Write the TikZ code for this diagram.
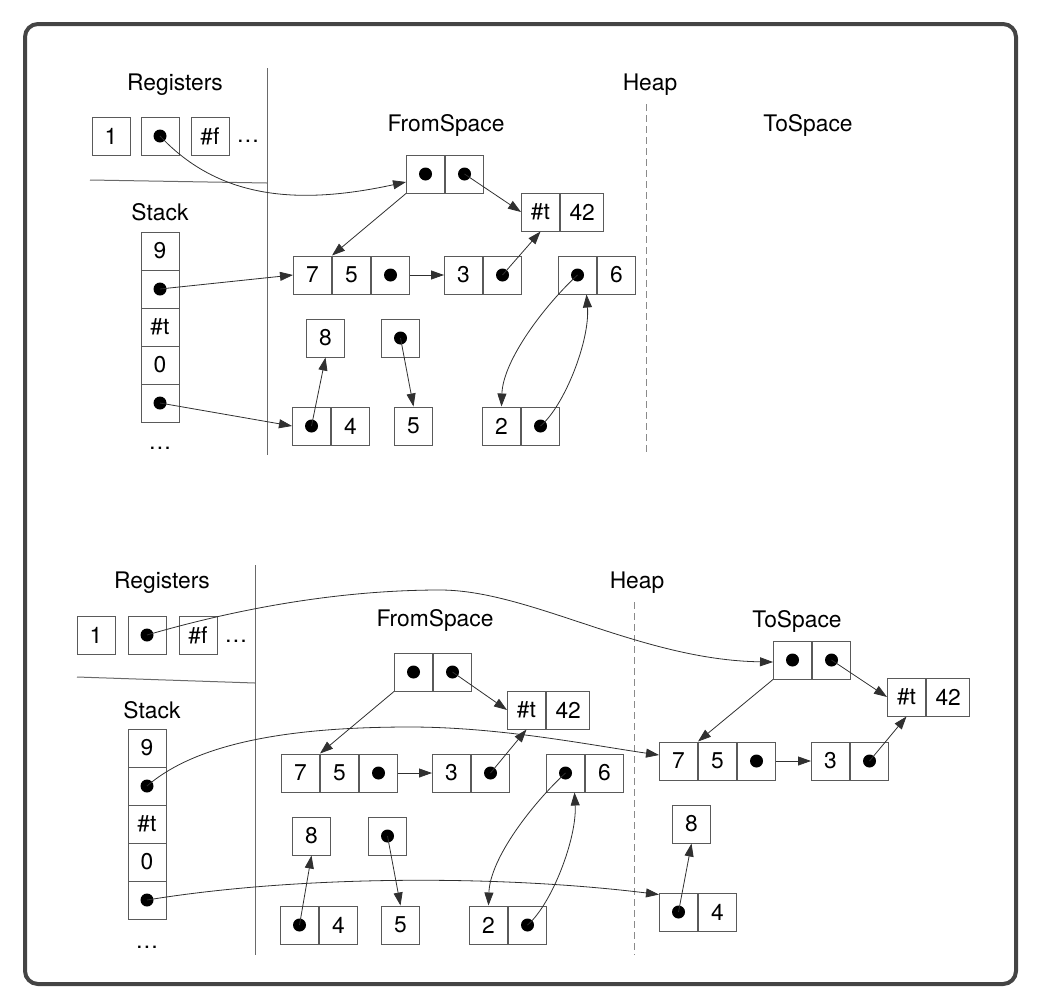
\documentclass[tikz,border=0pt]{standalone}
\usepackage{fontspec}
\setmainfont{TeX Gyre Heros}
\usetikzlibrary{arrows.meta,calc}
\definecolor{frame}{HTML}{444444}
\definecolor{boxc}{HTML}{5A5A5A}
\definecolor{linec}{HTML}{303030}
\definecolor{divc}{HTML}{6A6A6A}
\definecolor{dashc}{HTML}{8A8A8A}
\begin{document}
\begin{tikzpicture}[x=1pt,y=-1pt,
  cell/.style={draw=boxc, line width=1pt, minimum width=38pt, minimum height=38pt,
    inner xsep=9pt, inner ysep=0pt, font=\fontsize{22.8}{27}\selectfont},
  dotcell/.style={cell, path picture={\fill[black] (path picture bounding box.center) circle (6.5pt);}},
  lbl/.style={font=\fontsize{22.8}{27}\selectfont, inner sep=0pt},
  ptr/.style={draw=linec, line width=0.8pt, -{Triangle[length=13pt,width=9pt]}},
  divider/.style={draw=divc, line width=1pt},
  heapsplit/.style={draw=dashc, line width=1pt, dash pattern=on 7pt off 4pt},
]
\useasboundingbox (0,0) rectangle (1041,1007);
\draw[line width=4pt, draw=frame, rounded corners=13pt] (25,24) rectangle (1016,984);

% ================= before collection =================
% section dividers
\draw[divider] (267,68) -- (267,455);
\draw[divider] (90,180) -- (267,183);
\draw[heapsplit] (646,104) -- (646,455);

% headings
\node[lbl] (regA) at (175,85) {Registers};
\node[lbl] (stkA) at (160,212) {Stack};
\node[lbl] (heapA) at (650,85) {Heap};
\node[lbl] (fromA) at (446,125) {FromSpace};
\node[lbl] (toA) at (808,125) {ToSpace};

% registers
\node[cell] (ar1) at (111,136) {1};
\node[dotcell] (ar2) at (160,136) {};
\node[cell] (ar3) at (210,136) {\#f};
\node[lbl] (ardots) at (248,141) {\dots};

% stack
\node[cell] (as1) at (160,251) {9};
\node[dotcell] (as2) at (160,289) {};
\node[cell] (as3) at (160,327) {\#t};
\node[cell] (as4) at (160,365) {0};
\node[dotcell] (as5) at (160,403) {};
\node[lbl] (asdots) at (160,448) {\dots};

% from-space objects
\node[dotcell, anchor=west] (ap1) at (406,174) {};
\node[dotcell, anchor=west] (ap2) at (ap1.east) {};
\node[cell, anchor=west] (at1) at (521,212) {\#t};
\node[cell, anchor=west] (at2) at (at1.east) {42};
\node[cell, anchor=west] (aq1) at (293,275) {7};
\node[cell, anchor=west] (aq2) at (aq1.east) {5};
\node[dotcell, anchor=west] (aq3) at (aq2.east) {};
\node[cell, anchor=west] (ac1) at (444,275) {3};
\node[dotcell, anchor=west] (ac2) at (ac1.east) {};
\node[dotcell, anchor=west] (ax1) at (558,275) {};
\node[cell, anchor=west] (ax2) at (ax1.east) {6};
\node[cell, anchor=west] (ae8) at (306,338) {8};
\node[dotcell, anchor=west] (aed) at (381,338) {};
\node[dotcell, anchor=west] (ay1) at (292,426) {};
\node[cell, anchor=west] (ay2) at (ay1.east) {4};
\node[cell, anchor=west] (ae5) at (394,426) {5};
\node[cell, anchor=west] (az1) at (482,426) {2};
\node[dotcell, anchor=west] (az2) at (az1.east) {};

% pointers
\draw[ptr] (ar2.center) .. controls (220,200) and (300,205) .. ($(ap1.west)+(0,8)$);
\draw[ptr] (ap1.south west) -- (aq1.north east);
\draw[ptr] (ap2.center) -- (at1.west);
\draw[ptr] (aq3.east) -- (ac1.west);
\draw[ptr] (ac2.center) -- (at1.south);
\draw[ptr] (as2.center) -- (aq1.west);
\draw[ptr] (as5.center) -- (ay1.west);
\draw[ptr] (ay1.center) -- (ae8.south);
\draw[ptr] (aed.center) -- (ae5.north);
\draw[ptr] (ax1.center) .. controls (545,305) and (503,360) .. (az1.north);
\draw[ptr] (az2.center) .. controls (565,405) and (590,340) .. ($(ax1.south)+(9,0)$);

% ================= after collection =================
\draw[divider] (255,565) -- (255,955);
\draw[divider] (77,677) -- (255,683);
\draw[heapsplit] (634,602) -- (634,955);

\node[lbl] (regB) at (162,583) {Registers};
\node[lbl] (stkB) at (152,710) {Stack};
\node[lbl] (heapB) at (637,583) {Heap};
\node[lbl] (fromB) at (435,620) {FromSpace};
\node[lbl] (toB) at (797,621) {ToSpace};

% registers
\node[cell] (br1) at (96,635) {1};
\node[dotcell] (br2) at (147,635) {};
\node[cell] (br3) at (198,635) {\#f};
\node[lbl] (brdots) at (236,641) {\dots};

% stack
\node[cell] (bs1) at (147,748) {9};
\node[dotcell] (bs2) at (147,786) {};
\node[cell] (bs3) at (147,824) {\#t};
\node[cell] (bs4) at (147,862) {0};
\node[dotcell] (bs5) at (147,900) {};
\node[lbl] (bsdots) at (147,947) {\dots};

% from-space objects
\node[dotcell, anchor=west] (bp1) at (394,672) {};
\node[dotcell, anchor=west] (bp2) at (bp1.east) {};
\node[cell, anchor=west] (bt1) at (507,710) {\#t};
\node[cell, anchor=west] (bt2) at (bt1.east) {42};
\node[cell, anchor=west] (bq1) at (281,773) {7};
\node[cell, anchor=west] (bq2) at (bq1.east) {5};
\node[dotcell, anchor=west] (bq3) at (bq2.east) {};
\node[cell, anchor=west] (bc1) at (432,773) {3};
\node[dotcell, anchor=west] (bc2) at (bc1.east) {};
\node[dotcell, anchor=west] (bx1) at (546,773) {};
\node[cell, anchor=west] (bx2) at (bx1.east) {6};
\node[cell, anchor=west] (be8) at (292,836) {8};
\node[dotcell, anchor=west] (bed) at (368,836) {};
\node[dotcell, anchor=west] (by1) at (280,925) {};
\node[cell, anchor=west] (by2) at (by1.east) {4};
\node[cell, anchor=west] (be5) at (381,925) {5};
\node[cell, anchor=west] (bz1) at (469,925) {2};
\node[dotcell, anchor=west] (bz2) at (bz1.east) {};

% to-space copies
\node[dotcell, anchor=west] (tp1) at (773,660) {};
\node[dotcell, anchor=west] (tp2) at (tp1.east) {};
\node[cell, anchor=west] (tt1) at (887,697) {\#t};
\node[cell, anchor=west] (tt2) at (tt1.east) {42};
\node[cell, anchor=west] (tq1) at (659,761) {7};
\node[cell, anchor=west] (tq2) at (tq1.east) {5};
\node[dotcell, anchor=west] (tq3) at (tq2.east) {};
\node[cell, anchor=west] (tc1) at (811,761) {3};
\node[dotcell, anchor=west] (tc2) at (tc1.east) {};
\node[cell, anchor=west] (te8) at (672,824) {8};
\node[dotcell, anchor=west] (ty1) at (659,912) {};
\node[cell, anchor=west] (ty2) at (ty1.east) {4};

% pointers in from-space
\draw[ptr] (bp1.south west) -- (bq1.north east);
\draw[ptr] (bp2.center) -- (bt1.west);
\draw[ptr] (bq3.east) -- (bc1.west);
\draw[ptr] (bc2.center) -- (bt1.south);
\draw[ptr] (by1.center) -- (be8.south);
\draw[ptr] (bed.center) -- (be5.north);
\draw[ptr] (bx1.center) .. controls (533,803) and (490,858) .. (bz1.north);
\draw[ptr] (bz2.center) .. controls (552,904) and (577,838) .. ($(bx1.south)+(9,0)$);

% pointers in to-space
\draw[ptr] (tp1.south west) -- (tq1.north east);
\draw[ptr] (tp2.center) -- (tt1.west);
\draw[ptr] (tq3.east) -- (tc1.west);
\draw[ptr] (tc2.center) -- (tt1.south);
\draw[ptr] (ty1.center) -- (te8.south);

% roots forwarded to to-space
\draw[ptr] (br2.center) .. controls (250,605) and (350,590) .. (440,590)
  .. controls (530,590) and (640,660) .. ($(tp1.west)+(0,2)$);
\draw[ptr] (bs2.center) .. controls (200,740) and (300,727) .. (410,727)
  .. controls (500,727) and (590,745) .. ($(tq1.west)+(0,-6)$);
\draw[ptr] (bs5.center) .. controls (300,875) and (500,875) .. ($(ty1.north west)+(0,2)$);
\end{tikzpicture}
\end{document}
